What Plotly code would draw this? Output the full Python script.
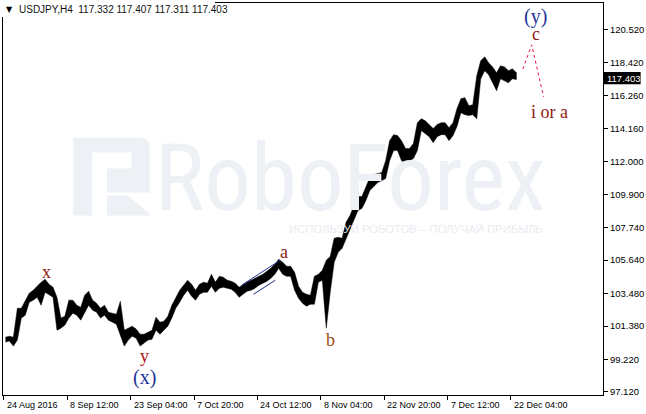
import plotly.graph_objects as go

# ---------------- data (USDJPY H4, each entry = 4 consecutive H4 bars) ----------------
group_high = [100.66, 100.72, 100.66, 102.53, 102.53, 103.05, 103.50, 103.69, 103.95, 104.21,
              104.40, 104.08, 103.89, 103.24, 101.89, 102.01, 103.05, 103.05, 102.72, 102.59,
              103.37, 103.63, 103.05, 102.85, 102.53, 102.72, 102.27, 102.21, 102.14, 102.98,
              101.11, 101.24, 101.37, 101.18, 100.85, 100.85, 100.98, 101.11, 101.95, 101.63,
              101.69, 102.01, 102.72, 103.18, 103.69, 104.02, 104.34, 104.08, 103.69, 104.08,
              104.21, 104.15, 104.72, 104.21, 104.59, 104.53, 104.34, 104.27, 104.15, 103.89,
              104.08, 104.21, 104.34, 104.46, 104.59, 104.72, 104.92, 105.11, 105.37, 105.69,
              105.50, 105.24, 105.24, 104.85, 103.95, 103.56, 103.43, 103.37, 104.59, 104.72,
              104.98, 105.63, 105.88, 107.05, 107.11, 107.05, 108.08, 108.53, 109.17, 109.75,
              109.75, 110.40, 110.98, 111.17, 111.24, 111.30, 112.07, 113.36, 113.75, 113.69,
              113.36, 112.85, 112.85, 113.17, 114.52, 114.78, 114.65, 114.40, 114.14, 114.40,
              114.52, 114.52, 114.20, 114.52, 115.43, 116.07, 116.14, 115.62, 115.69, 117.55,
              118.52, 118.78, 118.39, 118.13, 117.75, 118.20, 118.13, 117.88, 118.01, 117.75]
group_low = [100.34, 100.41, 100.08, 100.47, 101.89, 102.08, 102.92, 103.05, 103.24, 102.72,
             103.56, 103.43, 103.24, 101.11, 101.24, 101.44, 101.89, 102.21, 102.08, 101.76,
             102.27, 102.72, 102.40, 102.27, 101.89, 102.08, 101.76, 101.63, 101.50, 100.79,
             100.08, 100.47, 100.72, 100.59, 100.08, 100.27, 100.47, 100.53, 101.11, 100.85,
             101.11, 101.37, 101.89, 102.53, 102.92, 103.37, 103.69, 103.30, 103.05, 103.43,
             103.56, 103.56, 103.95, 103.56, 103.82, 103.89, 103.82, 103.76, 103.56, 103.24,
             103.43, 103.63, 103.69, 103.82, 104.02, 104.15, 104.27, 104.46, 104.72, 105.11,
             104.72, 104.59, 104.59, 103.69, 103.18, 102.85, 102.66, 102.79, 102.79, 104.21,
             104.34, 101.24, 103.56, 105.50, 106.14, 106.40, 106.92, 107.69, 108.21, 108.85,
             108.98, 109.49, 110.14, 110.40, 110.65, 110.78, 110.91, 112.07, 112.72, 112.72,
             112.07, 111.88, 112.07, 112.20, 112.72, 114.01, 113.81, 113.62, 113.23, 113.62,
             113.75, 113.75, 113.36, 113.69, 114.27, 115.17, 115.04, 114.98, 115.04, 114.78,
             117.36, 117.88, 117.62, 117.10, 116.59, 117.36, 117.23, 117.10, 117.36, 117.31]
bars_per_group = 4

date_labels = ["24 Aug 2016", "8 Sep 12:00", "23 Sep 04:00", "7 Oct 20:00", "24 Oct 12:00",
               "8 Nov 04:00", "22 Nov 20:00", "7 Dec 12:00", "22 Dec 04:00"]
date_label_bars = [0, 64, 128, 192, 256, 320, 384, 448, 512]

price_ticks = [120.52, 118.42, 116.26, 114.16, 112.00, 109.90, 107.74, 105.64, 103.48, 101.38, 99.22, 97.12]
last_price = 117.403
header = "USDJPY,H4  117.332 117.407 117.311 117.403"

# wave labels: (text, bar, price, colour, size)
wave_labels = [
    ("x", 43, 104.85, "#8E1A12", 18),
    ("y", 142, 99.44, "#B01515", 18),
    ("(x)", 142, 98.02, "#23359A", 20),
    ("a", 283, 106.14, "#8E1A12", 18),
    ("b", 330, 100.47, "#9C4A0E", 18),
    ("c", 537, 120.26, "#8E1A12", 18),
    ("(y)", 537, 121.36, "#23359A", 20),
    ("i or a", 551, 115.23, "#8E1A12", 18),
]
proj_bars = [524, 533, 545]
proj_prices = [117.99, 119.55, 116.20]
chan_upper = ([240, 279], [104.02, 105.63])
chan_lower = ([252, 274], [103.43, 104.34])

# ---------------- figure ----------------
W, H = 646, 414
L, R, T, B = 2, 38, 2, 19
pw, ph = W - L - R, H - T - B


def px(x):
    return (x - L) / pw


def py(y):
    return (H - B - y) / ph


xs = [i * bars_per_group + (bars_per_group - 1) / 2 for i in range(len(group_high))]
fig = go.Figure()
# price ribbon: upper edge through the highs, back along the lows
fig.add_trace(go.Scatter(x=xs + xs[::-1], y=group_high + group_low[::-1], mode="lines",
                         fill="toself", fillcolor="black", line=dict(color="black", width=0.5),
                         hoverinfo="skip", showlegend=False))

fig.add_trace(go.Scatter(x=proj_bars, y=proj_prices, mode="lines",
                         line=dict(color="#E8174A", width=1, dash="3px,3px"),
                         hoverinfo="skip", showlegend=False))
for cx, cy in (chan_upper, chan_lower):
    fig.add_trace(go.Scatter(x=cx, y=cy, mode="lines", line=dict(color="#1F2F8F", width=1),
                             hoverinfo="skip", showlegend=False))

shapes = []
wm = "#EDF0F4"
# watermark logo
shapes.append(dict(type="path", xref="paper", yref="paper", layer="below",
                   path="M {} {} L {} {} Q {} {} {} {} L {} {} L {} {} L {} {} L {} {} L {} {} L {} {} L {} {} L {} {} Z".format(
                       px(73), py(137), px(140), py(137), px(150), py(137), px(150), py(147),
                       px(150), py(192), px(107), py(192), px(107), py(168), px(132), py(168),
                       px(132), py(152), px(92), py(152), px(92), py(215), px(73), py(215)),
                   fillcolor=wm, line=dict(width=0)))
shapes.append(dict(type="path", xref="paper", yref="paper", layer="below",
                   path="M {} {} L {} {} L {} {} L {} {} Z".format(
                       px(107), py(195), px(128), py(195), px(152), py(215), px(107), py(215)),
                   fillcolor=wm, line=dict(width=0)))
# price label box
shapes.append(dict(type="rect", xref="paper", yref="y", x0=1, x1=px(646), y0=last_price - 0.40,
                   y1=last_price + 0.40, fillcolor="black", line=dict(width=0), layer="above"))
# header background
shapes.append(dict(type="rect", xref="paper", yref="paper", x0=px(0), x1=px(216), y0=py(16), y1=py(-2),
                   fillcolor="white", line=dict(width=0), layer="above"))

ann = []
ann.append(dict(text="RoboForex", xref="paper", yref="paper", x=px(154), y=py(178), xanchor="left",
                yanchor="middle", showarrow=False,
                font=dict(family="Liberation Sans Narrow, Roboto Condensed, Liberation Sans", size=93, color=wm)))
ann.append(dict(text="ИСПОЛЬЗУЙ РОБОТОВ – ПОЛУЧАЙ ПРИБЫЛЬ", xref="paper", yref="paper", x=px(549), y=py(229),
                xanchor="right", yanchor="middle", showarrow=False,
                font=dict(family="Liberation Sans", size=11.3, color="#E9ECF0")))
for t, bx, pr, col, sz in wave_labels:
    ann.append(dict(text=t, x=bx, y=pr, xref="x", yref="y", showarrow=False,
                    font=dict(family="Liberation Serif", size=sz, color=col)))
for t, bx in zip(date_labels, date_label_bars):
    ann.append(dict(text=t, x=bx, y=0, xref="x", yref="paper", xanchor="left", yanchor="top",
                    xshift=1, yshift=-3, showarrow=False,
                    font=dict(family="Liberation Sans", size=9, color="black")))
ann.append(dict(text="{:.3f}".format(last_price), xref="paper", yref="y", x=px(610), y=last_price,
                xanchor="left", yanchor="middle", showarrow=False,
                font=dict(family="Liberation Sans", size=9.5, color="white")))
ann.append(dict(text="▼", xref="paper", yref="paper", x=px(3), y=py(9), xanchor="left", yanchor="middle",
                showarrow=False, font=dict(family="DejaVu Sans", size=8, color="black")))
ann.append(dict(text=header, xref="paper", yref="paper", x=px(16), y=py(9), xanchor="left",
                yanchor="middle", showarrow=False,
                font=dict(family="Liberation Sans", size=10, color="#111111")))

fig.update_layout(
    width=W, height=H, margin=dict(l=L, r=R, t=T, b=B),
    paper_bgcolor="white", plot_bgcolor="white",
    shapes=shapes, annotations=ann,
    xaxis=dict(range=[-1, 605], showgrid=False, zeroline=False, showline=True, mirror=True,
               linecolor="black", linewidth=1, ticks="outside", ticklen=4, tickcolor="black",
               tickvals=date_label_bars, ticktext=[""] * len(date_label_bars), fixedrange=True),
    yaxis=dict(range=[96.92, 122.26], side="right", showgrid=False, zeroline=False, showline=True,
               mirror=True, linecolor="black", linewidth=1, ticks="outside", ticklen=4,
               tickcolor="black", tickvals=price_ticks, ticktext=["{:.3f}".format(v) for v in price_ticks],
               tickfont=dict(family="Liberation Sans", size=9.5, color="black"), fixedrange=True),
)
fig.write_html("out.html", config={"displayModeBar": False},
               post_script="document.body.style.margin='0';document.body.style.overflow='hidden';")
